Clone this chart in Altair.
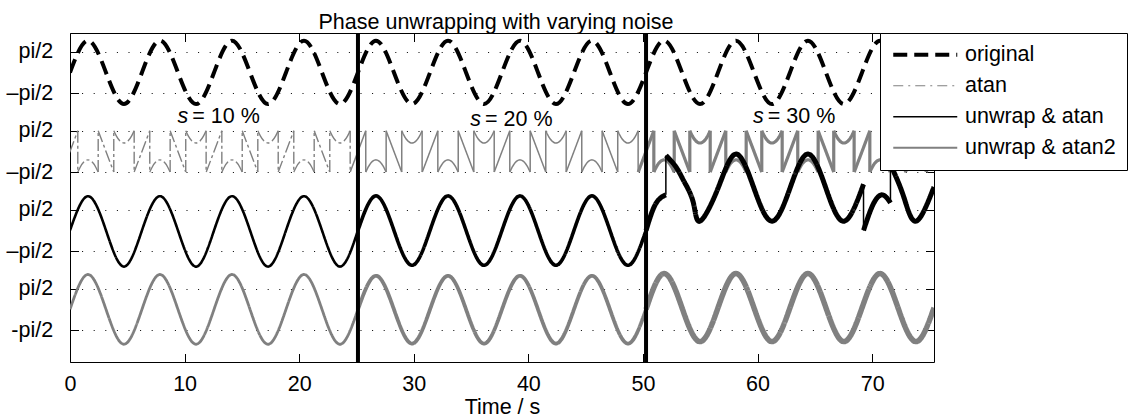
import altair as alt
import pandas as pd

FONT = "Liberation Sans"
FS = 21.5

# ---------------- values ----------------
SERIES = ["original", "atan", "unwrap & atan", "unwrap & atan2"]
SERIES_COLORS = ["#000000", "#808080", "#000000", "#808080"]

SECTION_EDGES = [25.13, 50.27]              # the two thick vertical separators
NOTE_T = [10.45, 36.0, 60.67]               # where "s" meets "= xx %"
NOTE_V = [14.18, 13.93, 14.18]
NOTE_REST = ["= 10 %", "= 20 %", "= 30 %"]

XTICKS = [0, 10, 20, 30, 40, 50, 60, 70]
YTICKS = [19.5708, 16.4292, 13.5708, 10.4292, 7.5708, 4.4292, 1.5708, -1.5708]
YTICK_LABELS = ["pi/2", "\u2013pi/2", "pi/2", "\u2013pi/2", "pi/2", "\u2013pi/2", "pi/2", "-pi/2"]

# sample times (peaks, troughs and zero crossings)
T_GRID = [0.0, 1.57, 3.14, 4.71, 6.28, 7.85, 9.42, 11.0, 12.57, 14.14, 15.71, 17.28, 18.85, 20.42, 21.99, 23.56,
          25.13, 26.7, 28.27, 29.85, 31.42, 32.99, 34.56, 36.13, 37.7, 39.27, 40.84, 42.41, 43.98, 45.55, 47.12, 48.69,
          50.27, 51.84, 53.41, 54.98, 56.55, 58.12, 59.69, 61.26, 62.83, 64.4, 65.97, 67.54, 69.12, 70.69, 72.26,
          73.83, 75.4]

ORIGINAL_V = [18.0, 20.42, 18.0, 15.6, 18.0, 20.42, 18.0, 15.6, 18.0, 20.42, 18.0, 15.6, 18.0, 20.42, 18.0, 15.6,
              18.0, 20.42, 18.0, 15.6, 18.0, 20.42, 18.0, 15.6, 18.0, 20.42, 18.0, 15.6, 18.0, 20.42, 18.0, 15.6,
              18.0, 20.42, 18.0, 15.6, 18.0, 20.42, 18.0, 15.6, 18.0, 20.42, 18.0, 15.6, 18.0, 20.42, 18.0, 15.6,
              18.0]

ATAN2_V = [0.0, 2.65, 0.0, -2.65, 0.0, 2.65, 0.0, -2.65, 0.0, 2.65, 0.0, -2.65, 0.0, 2.65, 0.0, -2.65, 0.0,
           2.55, 0.0, -2.6, 0.0, 2.55, 0.0, -2.6, 0.0, 2.55, 0.0, -2.6, 0.0, 2.55, 0.0, -2.6, 0.0,
           2.72, 0.12, -2.45, 0.12, 2.72, 0.12, -2.45, 0.12, 2.72, 0.12, -2.45, 0.12, 2.72, 0.12, -2.45, 0.12]

# unwrap & atan, first two sections on T_GRID[0..32]
BLACK_GRID_V = [6.0, 8.6, 6.0, 3.25, 6.0, 8.6, 6.0, 3.25, 6.0, 8.6, 6.0, 3.25, 6.0, 8.6, 6.0, 3.25, 6.0,
                8.62, 6.0, 3.35, 6.0, 8.62, 6.0, 3.35, 6.0, 8.62, 6.0, 3.35, 6.0, 8.62, 6.0, 3.35, 6.0]
# unwrap & atan, third section (with the unwrapping jumps)
BLACK_S3_T = [[50.27, 51.1, 52.0], [52.0, 52.0],
              [52.0, 52.9, 53.6, 54.4, 54.98, 56.55, 58.12, 59.69, 61.26, 62.83, 64.4, 65.97, 67.54, 69.25],
              [69.25, 69.25], [69.25, 70.1, 70.9, 71.6], [71.6, 71.6], [71.6, 72.74, 73.83, 75.4]]
BLACK_S3_V = [[6.0, 8.0, 8.7], [8.7, 11.7],
              [11.7, 10.8, 9.7, 8.1, 6.7, 9.2, 11.8, 9.2, 6.7, 9.2, 11.8, 9.2, 6.7, 9.5],
              [9.5, 6.0], [6.0, 8.0, 8.7, 8.1], [8.1, 11.0], [11.0, 8.6, 6.7, 9.3]]

# atan (wrapped) trace: pieces of one period, times relative to each period start
ATAN_PIECE_DT = [[-0.68, 0.68], [0.68, 0.68], [0.68, 0.9, 1.2, 1.57, 1.94, 2.24, 2.46], [2.46, 2.46],
                 [2.46, 3.82], [3.82, 3.82], [3.82, 4.04, 4.34, 4.71, 5.08, 5.38, 5.6], [5.6, 5.6]]
ATAN_PIECE_V = [[10.43, 13.57], [13.57, 10.43], [10.43, 10.82, 11.19, 11.36, 11.19, 10.82, 10.43], [10.43, 13.57],
                [13.57, 10.43], [10.43, 13.57], [13.57, 13.18, 12.81, 12.64, 12.81, 13.18, 13.57], [13.57, 10.43]]
PERIOD_STARTS = [0.0, 6.28, 12.57, 18.85, 25.13, 31.42, 37.7, 43.98, 50.27, 56.55, 62.83, 69.12, 75.4]

# ---------------- styles ----------------
DASH_OF = {"original": ["dash"] * 3, "atan": ["dashdot", "solid", "solid"],
           "unwrap & atan": ["solid"] * 3, "unwrap & atan2": ["solid"] * 3}
WIDTH_OF = {"original": [4, 4, 4], "atan": [1.4, 1.5, 3.2],
            "unwrap & atan": [2.6, 3.6, 5.0], "unwrap & atan2": [2.8, 3.8, 5.5]}
JUMP_WIDTH = 1.5
T_END = 75.4


def section_of(t):
    s = 0
    for e in SECTION_EDGES:
        if t >= e:
            s += 1
    return s


rows = []


def add_piece(series, pid, ts, vs, width=None):
    sec = section_of((ts[0] + ts[-1]) / 2)
    for t, v in zip(ts, vs):
        rows.append({"t": t, "v": v, "series": series, "piece": pid,
                     "dash": DASH_OF[series][sec],
                     "sw": width if width is not None else WIDTH_OF[series][sec],
                     "i": len(rows)})


def split_by_sections(ts, vs):
    out, cur_t, cur_v = [], [], []
    for t, v in zip(ts, vs):
        cur_t.append(t)
        cur_v.append(v)
        if t in SECTION_EDGES:
            out.append((cur_t, cur_v))
            cur_t, cur_v = [t], [v]
    if len(cur_t) > 1:
        out.append((cur_t, cur_v))
    return out


add_piece("original", "orig", T_GRID, ORIGINAL_V)

for k, t0 in enumerate(PERIOD_STARTS):
    for j, (dts, vs) in enumerate(zip(ATAN_PIECE_DT, ATAN_PIECE_V)):
        ts = [round(t0 + d, 3) for d in dts]
        if ts[0] >= T_END:
            continue
        add_piece("atan", f"a{k}_{j}", ts, vs)

n_black = len(BLACK_GRID_V)
for j, (ts, vs) in enumerate(split_by_sections(T_GRID[:n_black], BLACK_GRID_V)):
    add_piece("unwrap & atan", f"b{j}", ts, vs)
for j, (ts, vs) in enumerate(zip(BLACK_S3_T, BLACK_S3_V)):
    add_piece("unwrap & atan", f"c{j}", ts, vs, JUMP_WIDTH if ts[0] == ts[-1] else None)

for j, (ts, vs) in enumerate(split_by_sections(T_GRID, ATAN2_V)):
    add_piece("unwrap & atan2", f"g{j}", ts, vs)

df = pd.DataFrame(rows)

# ---------------- chart ----------------
x_scale = alt.Scale(domain=[0, T_END], nice=False, zero=False)
y_scale = alt.Scale(domain=[-4, 21], nice=False, zero=False)
tick_in = alt.ExprRef(expr="-8.5")

label_expr = " : ".join(
    f"abs(datum.value - ({v})) < 0.001 ? '{lab}'" for v, lab in zip(YTICKS, YTICK_LABELS)) + " : ''"

bottom_axis = alt.Axis(values=XTICKS, title="Time / s", titleFont=FONT, titleFontSize=FS,
                       titleFontWeight="normal", titleColor="black", titleY=51.5, titleBaseline="alphabetic",
                       labelFont=FONT, labelFontSize=FS, labelColor="black", labelPadding=20,
                       labelFlush=False, labelOverlap=False, labelAngle=0,
                       tickSize=tick_in, tickColor="black", tickWidth=1, domain=False, grid=False)
left_axis = alt.Axis(values=YTICKS, labelExpr=label_expr, title=None, labelFont=FONT, labelFontSize=FS,
                     labelColor="black", labelPadding=25.9, labelOverlap=False, labelFlush=False,
                     tickSize=tick_in, tickColor="black", tickWidth=1, domain=False,
                     grid=True, gridColor="black", gridDash=[1, 10.6], gridWidth=1, gridOpacity=1)
top_axis = alt.Axis(orient="top", values=XTICKS, labels=False, title=None, tickSize=tick_in,
                    tickColor="black", tickWidth=1, domain=False, grid=False)
right_axis = alt.Axis(orient="right", values=YTICKS, labels=False, title=None, tickSize=tick_in,
                      tickColor="black", tickWidth=1, domain=False, grid=False)

legend = alt.Legend(
    title=None, orient="none", legendX=810, legendY=0, direction="vertical",
    symbolType="stroke", symbolSize=4096, symbolOffset=23.5,
    symbolStrokeWidth=alt.ExprRef(expr="datum.value == 'original' ? 4 : datum.value == 'atan' ? 1.2 : "
                                       "datum.value == 'unwrap & atan' ? 1.5 : 2"),
    symbolDash=alt.ExprRef(expr="datum.value == 'original' ? [14, 7] : datum.value == 'atan' ? "
                                "[10, 5, 2, 5] : [1, 0]"),
    labelFont=FONT, labelFontSize=FS, labelColor="black", labelOffset=29, labelLimit=0,
    padding=11, rowPadding=8, strokeColor="black", fillColor="white", cornerRadius=0,
)

lines = alt.Chart(df).mark_line(interpolate="natural", clip=True, strokeCap="butt").encode(
    x=alt.X("t:Q", scale=x_scale, axis=bottom_axis),
    y=alt.Y("v:Q", scale=y_scale, axis=left_axis),
    color=alt.Color("series:N", scale=alt.Scale(domain=SERIES, range=SERIES_COLORS), legend=legend),
    strokeDash=alt.StrokeDash("dash:N", scale=alt.Scale(domain=["dash", "dashdot", "solid"],
                                                        range=[[14, 7], [12, 3, 3, 3], [1, 0]]), legend=None),
    strokeWidth=alt.StrokeWidth("sw:Q", scale=None, legend=None),
    detail="piece:N",
    order="i:Q",
)

seps = alt.Chart(pd.DataFrame({"t": SECTION_EDGES})).mark_rule(color="black", strokeWidth=4).encode(
    x=alt.X("t:Q", scale=x_scale, axis=None)
)

notes_df = pd.DataFrame({"t": NOTE_T, "v": NOTE_V, "rest": NOTE_REST})
s_text = alt.Chart(notes_df).mark_text(text="s", font=FONT, fontSize=FS, fontStyle="italic", align="right",
                                       baseline="alphabetic", dx=-1.5, color="black").encode(
    x=alt.X("t:Q", scale=x_scale, axis=top_axis),
    y=alt.Y("v:Q", scale=y_scale, axis=right_axis),
)
rest_text = alt.Chart(notes_df).mark_text(font=FONT, fontSize=FS, align="left", baseline="alphabetic",
                                          dx=2.5, color="black").encode(
    x=alt.X("t:Q", scale=x_scale, axis=None),
    y=alt.Y("v:Q", scale=y_scale, axis=None),
    text="rest:N",
)

chart = alt.layer(lines, seps, s_text, rest_text).resolve_axis(
    x="independent", y="independent"
).properties(
    width=864, height=329,
    title=alt.TitleParams(text="Phase unwrapping with varying noise", font=FONT, fontSize=FS,
                          fontWeight="normal", color="black", anchor="middle", frame="group",
                          baseline="alphabetic", offset=6.6, dx=-6, dy=26),
    autosize=alt.AutoSizeParams(type="none"),
    padding={"left": 70, "top": 33, "right": 194, "bottom": 57},
).configure(
    font=FONT, background="white",
    view=alt.ViewConfig(stroke="black", strokeWidth=1),
)

chart.save("out.html", embed_options={"renderer": "svg", "actions": False})
